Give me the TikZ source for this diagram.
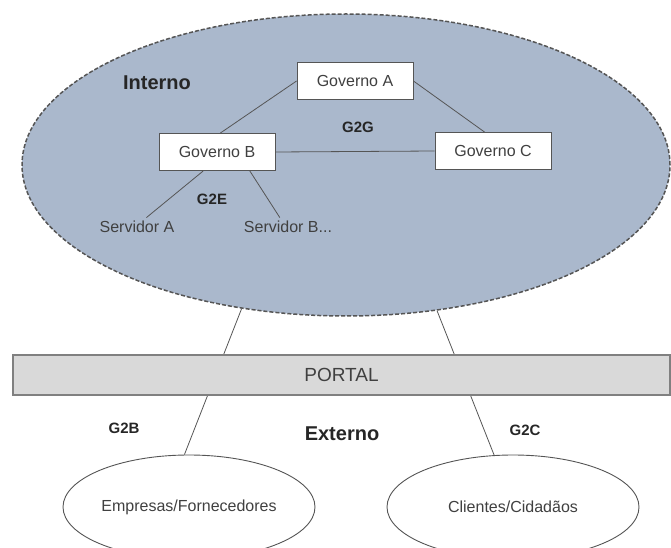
\documentclass[tikz,border=0pt]{standalone}
\usepackage{fontspec}
\setmainfont{Liberation Sans}
\usetikzlibrary{shapes.geometric}
\definecolor{internofill}{RGB}{170,184,204}
\definecolor{portalfill}{RGB}{217,217,217}
\definecolor{portaledge}{RGB}{128,128,128}
\definecolor{linegray}{RGB}{85,85,85}
\definecolor{textgray}{RGB}{64,64,64}
\begin{document}
\begin{tikzpicture}[x=1pt, y=-1pt,
internonode/.style={ellipse, draw=linegray, fill=internofill, line width=1.5pt, dash pattern=on 4pt off 2pt, inner sep=0pt, minimum width=648pt, minimum height=302pt},
govnode/.style={rectangle, draw=linegray, fill=white, line width=0.9pt, minimum width=116pt, minimum height=37pt, text=textgray, font=\fontsize{16}{19}\selectfont},
externonode/.style={ellipse, draw=linegray, fill=white, line width=0.9pt, inner sep=0pt, minimum width=252pt, minimum height=104pt, text=textgray, font=\fontsize{16}{19}\selectfont},
portalnode/.style={rectangle, draw=portaledge, fill=portalfill, line width=1.5pt, minimum width=657pt, minimum height=40pt, text=textgray, font=\fontsize{19}{22}\selectfont},
plainlabel/.style={text=textgray, font=\fontsize{16}{19}\selectfont},
boldlabel/.style={text=black!85, font=\fontsize{15}{18}\selectfont\bfseries},
biglabel/.style={text=black!85, font=\fontsize{20}{24}\selectfont\bfseries},
link/.style={draw=linegray, line width=0.8pt},
]
\clip (0,0) rectangle (671,548);
%Nodes
\node[internonode]  (interno)    at (346,165) {};
\node[govnode]      (gova)       at (355,81)  {Governo A};
\node[govnode]      (govb)       at (217,152) {Governo B};
\node[govnode]      (govc)       at (493,151) {Governo C};
\node[plainlabel]   (serva)      at (137,227) {Servidor A};
\node[plainlabel]   (servb)      at (288,227) {Servidor B...};
\node[biglabel]     (lblint)     at (157,83)  {Interno};
\node[boldlabel]    (lblg2g)     at (358,127) {G2G};
\node[boldlabel]    (lblg2e)     at (212,199) {G2E};
\node[externonode]  (empresas)   at (189,507) {Empresas/Fornecedores};
\node[externonode]  (clientes)   at (513,507) {Clientes/Cidadãos};
\node[boldlabel]    (lblg2b)     at (124,428) {G2B};
\node[biglabel]     (lblext)     at (342,434) {Externo};
\node[boldlabel]    (lblg2c)     at (525,430) {G2C};

%Lines
\draw[link] (interno.234) -- (empresas.95);
\draw[link] (interno.302) -- (clientes.110);
\node[portalnode]   (portal)     at (341.5,375) {PORTAL};
\draw[link] (gova.west) -- (govb.80);
\draw[link] (gova.east) -- (govc.114);
\draw[link] (govb.east) -- (govc.west);
\draw[link] (govb.234) -- (serva.45);
\draw[link] (govb.330) -- (servb.131);
\end{tikzpicture}
\end{document}
